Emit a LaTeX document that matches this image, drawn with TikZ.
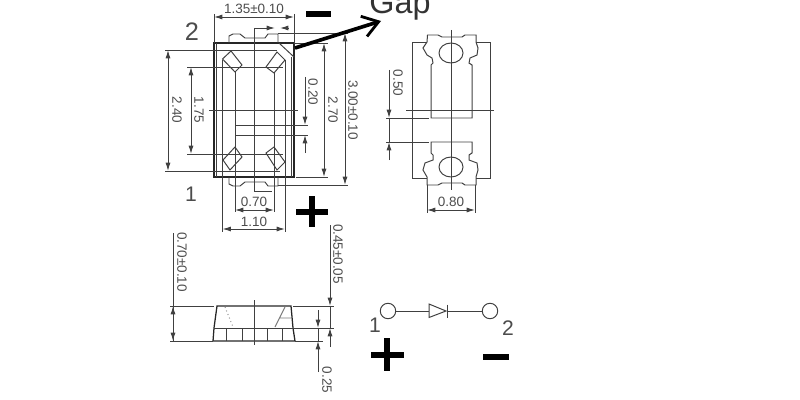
\documentclass[tikz,border=0pt]{standalone}
\usepackage{fontspec}
\setmainfont{Liberation Sans}
\usetikzlibrary{arrows.meta}
\definecolor{LineClr}{gray}{0.25}
\definecolor{TextClr}{gray}{0.3}
\tikzset{
  thinln/.style={draw=LineClr,line width=0.7pt},
  bodyln/.style={draw=black!85,line width=1.3pt},
  dimln/.style={thinln,{Latex[length=6pt,width=3.6pt]}-{Latex[length=6pt,width=3.6pt]}},
  halfln/.style={thinln,-{Latex[length=6pt,width=3.6pt]}},
  dimlbl/.style={text=TextClr,font=\fontsize{9.6}{9.6}\selectfont,inner sep=0pt},
  pinlbl/.style={text=TextClr,font=\fontsize{15}{15}\selectfont,inner sep=0pt},
  signln/.style={draw=black,line width=3.6pt},
}
\begin{document}
\begin{tikzpicture}[x=0.025cm,y=-0.025cm]
\useasboundingbox (0,0) rectangle (800,400);

\draw[bodyln] (214,43) rectangle (294,177);
\draw[thinln] (216.5,43) -- (216.5,177) (291.5,57) -- (291.5,177);
\draw[thinln] (222.5,60) -- (222.5,232) (285,60) -- (285,232);
\draw[thinln] (235,72) -- (235,212) (274,72) -- (274,212);
\draw[thinln] (279,43) -- (294,57);
\draw[thinln] (229,43) -- (229,36) -- (233,34) -- (240,34) -- (245,38) -- (265,38) -- (268,34) -- (278,34) -- (278,43);
\draw[thinln] (229,177) -- (229,184) -- (233,186) -- (240,186) -- (245,182) -- (265,182) -- (268,186) -- (278,186) -- (278,177);
\draw[thinln] (222.5,59) -- (231,51) -- (242,65) -- (235,72) -- cycle;
\draw[thinln] (266,67) -- (277,52) -- (285,60) -- (274,73) -- cycle;
\draw[thinln] (223,160) -- (235,147) -- (242,157) -- (230,170) -- cycle;
\draw[thinln] (266,153) -- (274,147) -- (285,162) -- (277,170) -- cycle;

\draw[thinln] (254,28) -- (254,191) -- (272,191);
\draw[thinln] (254,28) -- (268,28);
\draw[thinln] (209,110) -- (298,110);
\draw[thinln] (235,125) -- (308,125) (235,135) -- (308,135);

\draw[thinln] (165,50) -- (277,50) (165,171) -- (280,171);
\draw[thinln] (187,67) -- (283,67) (187,154) -- (283,154);
\draw[dimln] (168,50) -- (168,171);
\draw[dimln] (191,67) -- (191,154);
\node[dimlbl,rotate=-90] (lblA) at (177,110) {2.40};
\node[dimlbl,rotate=-90] (lblB) at (199,110) {1.75};

\draw[thinln] (214,14) -- (214,43) (294,14) -- (294,43);
\draw[dimln] (214,17) -- (294,17);
\node[dimlbl] (lblC) at (254,9) {1.35±0.10};
\draw[halfln] (268,28) -- (275,28);
\draw[halfln] (288,28) -- (280,28);

\draw[halfln] (305,77) -- (305,125);
\draw[halfln] (305,153) -- (305,135);
\node[dimlbl,rotate=-90] (lblD) at (313,92) {0.20};

\draw[thinln] (294,43) -- (328,43) (296,177) -- (328,177);
\draw[dimln] (324,43) -- (324,177);
\node[dimlbl,rotate=-90] (lblE) at (333,110) {2.70};
\draw[thinln] (278,33) -- (348,33) (278,185) -- (348,185);
\draw[dimln] (345,33) -- (345,185);
\node[dimlbl,rotate=-90] (lblF) at (353,110) {3.00±0.10};

\draw[dimln] (235,210) -- (274,210);
\node[dimlbl] (lblG) at (254,202) {0.70};
\draw[dimln] (222.5,229) -- (285,229);
\node[dimlbl] (lblH) at (254,222) {1.10};

\node[pinlbl,font=\fontsize{18}{18}\selectfont] (pinA) at (192,32) {2};
\node[pinlbl] (pinB) at (191,194) {1};

\draw[signln,line width=4.4pt] (306,14) -- (331,14);
\draw[signln] (296,212) -- (328,212) (312,196) -- (312,227);

\coordinate (gapS) at (295,48);
\coordinate (gapE) at (381,21);
\draw[draw=black,line width=2.6pt,-{Straight Barb[length=11pt,width=15pt,line width=2pt]}] (gapS) -- (gapE);
\node[inner sep=0pt,font=\fontsize{23}{23}\selectfont,text=black!80] (gapLbl) at (400,6) {Gap};

\draw[thinln] (427,42) -- (412,42) -- (412,178) -- (427,178);
\draw[thinln] (476,42) -- (490,42) -- (490,178) -- (476,178);
\draw[thinln] (427,42) -- (427.5,35) -- (438,35) -- (442,37) -- (462,37) -- (465,35) -- (476,35) -- (476,42);
\draw[thinln] (427,42) -- (423,48) -- (427,55) -- (432,58) -- (433,63) -- (431,65) -- (431,118) -- (472,118) -- (472,65) -- (469,63) -- (470,58) -- (477,55) -- (478,48) -- (476,42);
\draw[thinln] (431,142) -- (472,142) -- (472,153) -- (469,155) -- (469,160) -- (477,163) -- (478,170) -- (476,177) -- (476,185) -- (465,185) -- (462,183) -- (442,183) -- (438,185) -- (427,185) -- (427,177) -- (423,170) -- (425,163) -- (433,160) -- (433,155) -- (431,153) -- cycle;
\draw[thinln] (451,53) ellipse [x radius=12,y radius=10];
\draw[thinln] (451,167) ellipse [x radius=12,y radius=10];
\draw[thinln] (451,30) -- (451,190) (406,110) -- (494,110);
\draw[thinln] (386,118) -- (429,118) (386,142) -- (429,142);
\draw[halfln] (389,70) -- (389,118);
\draw[halfln] (389,160) -- (389,142);
\draw[thinln] (389,118) -- (389,142);
\node[dimlbl,rotate=-90] (lblI) at (398,83) {0.50};
\draw[thinln] (427,185) -- (427,213) (475,185) -- (475,213);
\draw[dimln] (427,210) -- (475,210);
\node[dimlbl] (lblJ) at (451,202) {0.80};

\draw[bodyln,line width=0.9pt] (217,306) -- (214,328) -- (213,341) -- (295,341) -- (293,328) -- (291,306) -- cycle;
\draw[thinln] (214,328) -- (293,328);
\foreach \footx in {226,242,267,282}
  \draw[thinln] (\footx,328) -- (\footx,341);
\draw[thinln] (254,300) -- (254,345);
\draw[thinln,dotted,draw=LineClr!60] (225,307) -- (233,327);
\draw[thinln,draw=LineClr!70] (285,307) -- (275,327) (280,318) -- (291,318);
\draw[thinln] (170,306) -- (214,306) (293,306) -- (334,306);
\draw[thinln] (170,341) -- (213,341) (295,341) -- (323,341);
\draw[thinln] (293,328) -- (334,328);
\draw[thinln] (173,233) -- (173,341);
\draw[dimln] (173,306) -- (173,341);
\node[dimlbl,rotate=-90] (lblK) at (182,262) {0.70±0.10};
\draw[halfln] (330,225) -- (330,306);
\draw[halfln] (330,347) -- (330,328);
\draw[thinln] (330,306) -- (330,328);
\node[dimlbl,rotate=-90] (lblL) at (338,254) {0.45±0.05};
\draw[halfln] (318,310) -- (318,328);
\draw[halfln] (318,372) -- (318,341);
\draw[thinln] (318,328) -- (318,341);
\node[dimlbl,rotate=-90] (lblM) at (327,380) {0.25};

\node[circle,thinln,minimum size=11pt,inner sep=0pt] (padA) at (388,311) {};
\node[circle,thinln,minimum size=11pt,inner sep=0pt] (padB) at (490,311) {};
\coordinate (diodeL) at (429,311);
\coordinate (diodeR) at (447,311);
\draw[thinln] (padA) -- (diodeL) (diodeR) -- (padB);
\draw[thinln] (429,304) -- (429,317.5) -- (446,311) -- cycle;
\draw[thinln] (447,304.5) -- (447,318);
\node[pinlbl] (pinC) at (375,325) {1};
\node[pinlbl] (pinD) at (508,328) {2};
\draw[signln] (371,355) -- (404,355) (387,338) -- (387,371);
\draw[signln,line width=4.4pt] (483,357) -- (509,357);
\end{tikzpicture}
\end{document}
